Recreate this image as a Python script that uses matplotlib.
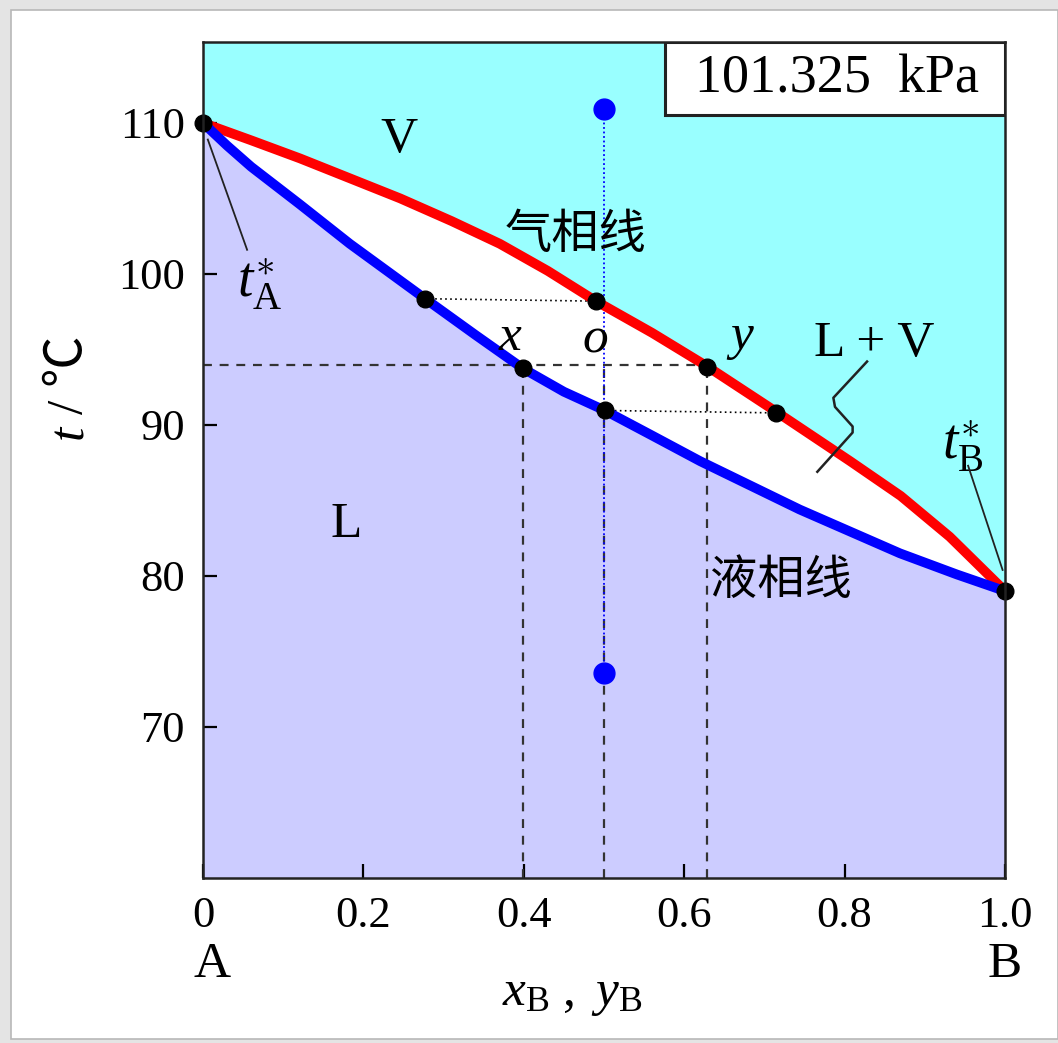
import numpy as np
import matplotlib.pyplot as plt
from matplotlib.patches import Rectangle

plt.rcParams['font.family'] = ['Liberation Serif', 'DejaVu Serif']
plt.rcParams['mathtext.fontset'] = 'custom'
plt.rcParams['mathtext.rm'] = 'Liberation Serif'
plt.rcParams['mathtext.it'] = 'Liberation Serif:italic'
cjk = ['Noto Sans CJK SC', 'DejaVu Sans']

# vapour (dew) line and liquid (bubble) line, t in degC vs x_B / y_B
vap_x = [0.0, 0.06, 0.121, 0.18, 0.246, 0.31, 0.370, 0.43, 0.490, 0.56, 0.628, 0.714, 0.807, 0.87, 0.931, 1.0]
vap_t = [110.0, 108.85, 107.65, 106.4, 105.0, 103.5, 102.0, 100.2, 98.2, 96.1, 93.9, 90.9, 87.6, 85.3, 82.6, 79.0]
liq_x = [0.0, 0.03, 0.06, 0.121, 0.183, 0.277, 0.340, 0.399, 0.450, 0.501, 0.560, 0.620, 0.744, 0.869, 0.94, 1.0]
liq_t = [110.0, 108.5, 107.1, 104.6, 102.0, 98.36, 95.95, 93.74, 92.2, 90.96, 89.3, 87.6, 84.4, 81.5, 80.1, 79.0]

# state points
pure_x = [0.0, 1.0]
pure_t = [110.0, 79.0]
tie1_x = [0.277, 0.490]
tie1_t = [98.36, 98.2]
tie2_x = [0.501, 0.714]
tie2_t = [90.96, 90.8]
mid_x = [0.399, 0.628]
mid_t = [93.74, 93.87]
sys_x = 0.5
sys_t = [110.93, 73.57]

fig = plt.figure(figsize=(10.58, 10.43), dpi=100, facecolor='#e4e4e4')
fig.patches.append(Rectangle((11 / 1058, 4 / 1043), 1047 / 1058, 1029 / 1043,
                             transform=fig.transFigure, facecolor='white',
                             edgecolor='#b8b8b8', linewidth=1.2, zorder=-5))
ax = fig.add_axes([203 / 1058, 1 - 878 / 1043, 802 / 1058, 836 / 1043])
ymin, ymax = 60.0, 115.36
ax.set_xlim(0, 1)
ax.set_ylim(ymin, ymax)
ax.set_facecolor('white')

# phase regions
ax.fill(vap_x + [1.0, 0.0], vap_t + [ymax, ymax], color='#99ffff', lw=0, zorder=0)
ax.fill(liq_x + [1.0, 0.0], liq_t + [ymin, ymin], color='#ccccff', lw=0, zorder=0)

# construction lines
dash = (0, (4, 3.5))
ax.plot([0, mid_x[1]], [94.0, 94.0], ls=dash, color='#333333', lw=1.6, zorder=2)
for xv in mid_x:
    ax.plot([xv, xv], [ymin, 94.0], ls=dash, color='#333333', lw=1.6, zorder=2)
ax.plot([sys_x, sys_x], [ymin, 94.0], ls=dash, color='#333333', lw=1.6, zorder=2)
ax.plot([sys_x, sys_x], sys_t, ls=(0, (1, 1.5)), color='blue', lw=1.3, zorder=2)
ax.plot(tie1_x, tie1_t, ls=(0, (1, 2)), color='black', lw=1.2, zorder=2)
ax.plot(tie2_x, tie2_t, ls=(0, (1, 2)), color='black', lw=1.2, zorder=2)

ax.plot(vap_x, vap_t, color='red', lw=7, solid_capstyle='round',
        solid_joinstyle='round', zorder=3)
ax.plot(liq_x, liq_t, color='blue', lw=7, solid_capstyle='round',
        solid_joinstyle='round', zorder=3)

ax.plot(pure_x, pure_t, 'o', color='black', ms=12, clip_on=False, zorder=5)
ax.plot(tie1_x + tie2_x + mid_x, tie1_t + tie2_t + mid_t, 'o', color='black', ms=12, zorder=5)
ax.plot([sys_x, sys_x], sys_t, 'o', color='blue', ms=15, zorder=5)

# pointer lines
ax.plot([0.006, 0.055], [108.9, 101.6], color='#222222', lw=1.3, zorder=4)
ax.plot([0.954, 0.997], [87.3, 80.4], color='#222222', lw=1.3, zorder=4)
ax.plot([0.828, 0.786, 0.788, 0.810, 0.810, 0.766],
        [94.2, 91.8, 91.2, 89.9, 89.5, 86.9], color='#222222', lw=1.8, zorder=4)

fs = 32
lab = 37
ax.text(0.245, 108.9, 'V', fontsize=lab, ha='center', va='center')
ax.text(0.178, 83.4, 'L', fontsize=lab, ha='center', va='center')
ax.text(0.837, 95.4, 'L + V', fontsize=lab, ha='center', va='center')
ax.text(0.464, 102.6, '气相线', fontsize=34, ha='center', va='center', family=cjk)
ax.text(0.72, 79.7, '液相线', fontsize=34, ha='center', va='center', family=cjk)
ax.text(0.383, 95.8, '$x$', fontsize=lab, ha='center', va='center')
ax.text(0.489, 95.7, '$o$', fontsize=lab, ha='center', va='center')
ax.text(0.67, 95.7, '$y$', fontsize=lab, ha='center', va='center')
ax.text(0.07, 99.3, r'$t_{\mathrm{A}}^{\ast}$', fontsize=40, ha='center', va='center')
ax.text(0.947, 88.6, r'$t_{\mathrm{B}}^{\ast}$', fontsize=40, ha='center', va='center')

# pressure box
ax.add_patch(Rectangle((0.576, 0.913), 0.424, 0.087, transform=ax.transAxes,
                       facecolor='white', edgecolor='#222222', lw=2.2, zorder=6))
ax.text(0.79, 0.956, '101.325  kPa', transform=ax.transAxes, fontsize=39,
        ha='center', va='center', zorder=7)

ax.set_xticks([0, 0.2, 0.4, 0.6, 0.8, 1.0])
ax.set_xticklabels(['0', '0.2', '0.4', '0.6', '0.8', '1.0'])
ax.set_yticks([70, 80, 90, 100, 110])
ax.tick_params(direction='in', length=10, width=1.6, labelsize=fs, pad=13)
ax.tick_params(axis='y', pad=13)
for side in ax.spines.values():
    side.set_linewidth(1.8)
    side.set_color('#222222')
    side.set_zorder(8)

fig.text(212 / 1058, 1 - 965 / 1043, 'A', fontsize=lab, ha='center', va='center')
fig.text(1005 / 1058, 1 - 965 / 1043, 'B', fontsize=lab, ha='center', va='center')
fig.text(572 / 1058, 1 - 995 / 1043, r'$x_{\mathrm{B}}\ ,\ y_{\mathrm{B}}$', fontsize=lab,
         ha='center', va='center')
fig.text(70 / 1058, 1 - 432 / 1043, 't', fontsize=lab, style='italic', ha='center',
         va='center', rotation=90)
fig.text(70 / 1058, 1 - 375 / 1043, '/ ℃', fontsize=lab, ha='center', va='center',
         rotation=90, family=['Liberation Serif', 'Noto Sans CJK SC'])

fig.savefig('out.png', dpi=100, facecolor=fig.get_facecolor())
